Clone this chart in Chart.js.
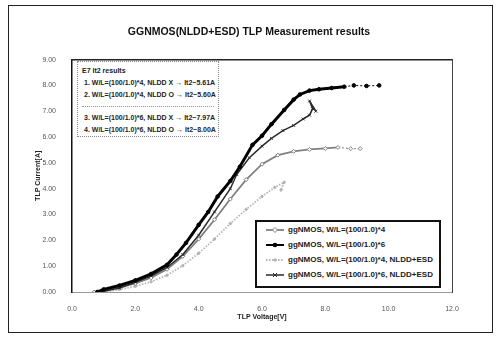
<!DOCTYPE html>
<html>
<head>
<meta charset="utf-8">
<script src="https://cdn.jsdelivr.net/npm/chart.js@4/dist/chart.umd.min.js"></script>
<style>
  body { margin: 0; background: #fff; }
  #wrap { position: relative; width: 498px; height: 339px; font-family: "Liberation Sans", Arial, sans-serif; }
  #frame { position: absolute; left: 8px; top: 5px; width: 483px; height: 326px; border: 1.5px solid #222; pointer-events: none; }
  #note { position: absolute; left: 77px; top: 61px; width: 140px; height: 74px; border: 1px dotted #888; font-size: 7px; font-weight: bold; color: #222; background: #fff; }
  #note div { position: absolute; white-space: nowrap; }
  #note .sep { left: 4px; right: 4px; border-top: 1px dotted #999; height: 0; }
  #legend { position: absolute; left: 255px; top: 220px; width: 182px; height: 64px; border: 2px solid #111; background: #fff; font-size: 8px; font-weight: bold; color: #222; }
  #legend .row { position: absolute; left: 8px; white-space: nowrap; display: flex; align-items: center; }
  #legend svg { margin-right: 3px; }
</style>
</head>
<body>
<div id="wrap">
  <canvas id="myChart" width="498" height="339"></canvas>
  <div id="note"></div>
  <div id="legend"></div>
  <div id="frame"></div>
</div>
<script>
var chartTitle = "GGNMOS(NLDD+ESD) TLP Measurement results";
var xTitle = "TLP Voltage[V]";
var yTitle = "TLP Current[A]";

var labels = [
    "ggNMOS, W/L=(100/1.0)*4",
    "ggNMOS, W/L=(100/1.0)*6",
    "ggNMOS, W/L=(100/1.0)*4, NLDD+ESD",
    "ggNMOS, W/L=(100/1.0)*6, NLDD+ESD"
];

// series 1 : W/L*4
var v1 = [0.7, 1.0, 1.5, 2.0, 2.5, 3.0, 3.5, 4.0, 4.5, 5.0, 5.5, 6.0, 6.5, 7.0, 7.5, 8.0, 8.4, 8.8, 9.1];
var i1 = [0.0, 0.05, 0.18, 0.33, 0.55, 0.88, 1.38, 2.05, 2.8, 3.6, 4.35, 4.95, 5.3, 5.45, 5.52, 5.56, 5.6, 5.55, 5.55];
// series 2 : W/L*6
var v2 = [0.8, 1.0, 1.5, 2.0, 2.5, 3.0, 3.3, 3.6, 4.0, 4.3, 4.6, 5.0, 5.3, 5.7, 6.0, 6.3, 6.7, 7.0, 7.2, 7.5, 7.8, 8.2, 8.6, 8.9, 9.3, 9.7];
var i2 = [0.0, 0.1, 0.25, 0.45, 0.7, 1.05, 1.45, 1.9, 2.6, 3.1, 3.7, 4.3, 4.85, 5.7, 6.05, 6.5, 7.05, 7.45, 7.65, 7.8, 7.85, 7.9, 7.95, 8.0, 7.98, 8.0];
// series 3 : W/L*4, NLDD+ESD
var v3 = [1.0, 1.5, 2.0, 2.5, 3.0, 3.5, 4.0, 4.5, 5.0, 5.5, 6.0, 6.4, 6.7, 6.6];
var i3 = [0.0, 0.1, 0.22, 0.4, 0.65, 1.02, 1.5, 2.05, 2.65, 3.2, 3.7, 4.05, 4.25, 3.95];
// series 4 : W/L*6, NLDD+ESD
var v4 = [0.9, 1.5, 2.0, 2.5, 3.0, 3.5, 4.0, 4.5, 5.0, 5.2, 5.6, 6.0, 6.3, 6.66, 7.0, 7.3, 7.5, 7.6, 7.5, 7.7];
var i4 = [0.0, 0.15, 0.38, 0.62, 0.95, 1.45, 2.2, 3.1, 4.0, 4.55, 5.2, 5.65, 5.95, 6.25, 6.45, 6.7, 6.85, 7.1, 7.4, 7.0];

// where the dotted tail starts (index of first dotted point)
var tail1 = 17;
var tail2 = 23;

var xTicks = [0, 2, 4, 6, 8, 10, 12];
var yTicks = [0, 1, 2, 3, 4, 5, 6, 7, 8, 9];

var noteLines = [
    "E7 It2 results",
    "1. W/L=(100/1.0)*4, NLDD X \u2192 It2~5.61A",
    "2. W/L=(100/1.0)*4, NLDD O \u2192 It2~5.60A",
    "3. W/L=(100/1.0)*6, NLDD X \u2192 It2~7.97A",
    "4. W/L=(100/1.0)*6, NLDD O \u2192 It2~8.00A"
];

var colors = ["#808080", "#000000", "#b4b4b4", "#2a2a2a"];
var widths = [1.8, 3, 1.8, 1.5];
var marks = ["rectRot", "circle", "circle", "crossRot"];
var markSize = [2, 1.8, 1.2, 2];
var markFill = ["#ffffff", "#000000", "#b4b4b4", "#2a2a2a"];
var dashes = [[], [], [1.5, 1.5], []];

function pts(xs, ys) {
    var d = [];
    for (var i = 0; i < xs.length; i++) d.push({x: xs[i], y: ys[i]});
    return d;
}

function tailDash(n) {
    return function (ctx) { return ctx.p1DataIndex >= n ? [2, 2] : undefined; };
}
function tailWidth(n, w) {
    return function (ctx) { return ctx.p1DataIndex >= n ? 1 : w; };
}

var series = [pts(v1, i1), pts(v2, i2), pts(v3, i3), pts(v4, i4)];
var tails = [tail1, tail2, 999, 999];

var datasets = [];
for (var k = 0; k < 4; k++) {
    datasets.push({
        label: labels[k],
        data: series[k],
        showLine: true,
        borderColor: colors[k],
        backgroundColor: markFill[k],
        borderWidth: widths[k],
        borderDash: dashes[k],
        pointStyle: marks[k],
        pointRadius: markSize[k],
        pointBorderWidth: 1,
        pointBorderColor: colors[k],
        tension: 0,
        segment: { borderDash: tailDash(tails[k]), borderWidth: tailWidth(tails[k], widths[k]) }
    });
}
// draw black ones on top
datasets[1].order = 0;
datasets[3].order = 1;
datasets[0].order = 2;
datasets[2].order = 3;

var fam = "'Liberation Sans', Arial, sans-serif";
var tickFont = { family: fam, size: 7 };

var ctx = document.getElementById('myChart').getContext('2d');
var chart = new Chart(ctx, {
    type: 'scatter',
    data: { datasets: datasets },
    options: {
        responsive: false,
        animation: false,
        devicePixelRatio: 1,
        layout: { padding: { left: 10, right: 10, top: 16, bottom: 6 } },
        plugins: {
            legend: { display: false },
            tooltip: { enabled: false },
            title: {
                display: true,
                text: chartTitle,
                color: '#111',
                font: { family: fam, size: 10.5, weight: 'bold' },
                padding: { top: 10, bottom: 21 }
            }
        },
        scales: {
            x: {
                type: 'linear', min: 0, max: 12,
                afterBuildTicks: function (s) { s.ticks = xTicks.map(function (v) { return {value: v}; }); },
                ticks: { color: '#555', font: tickFont, padding: 5, maxRotation: 0,
                    callback: function (v) { return v.toFixed(1); } },
                grid: { display: false },
                border: { color: '#999', dash: [2, 2], width: 1 },
                title: { display: true, text: xTitle, color: '#222',
                    font: { family: fam, size: 7, weight: 'bold' }, padding: { top: 0, bottom: 12 } },
                afterFit: function (s) { s.height = 41; }
            },
            y: {
                type: 'linear', min: 0, max: 9,
                afterBuildTicks: function (s) { s.ticks = yTicks.map(function (v) { return {value: v}; }); },
                ticks: { color: '#555', font: tickFont, padding: 8,
                    callback: function (v) { return v.toFixed(2); } },
                grid: { display: false },
                border: { color: '#111', width: 1.5 },
                title: { display: true, text: yTitle, color: '#222',
                    font: { family: fam, size: 7, weight: 'bold' }, padding: { top: 24, bottom: 0 } },
                afterFit: function (s) { s.width = 62; }
            },
            x2: {
                type: 'linear', position: 'top', min: 0, max: 12,
                ticks: { display: false }, grid: { display: false },
                border: { color: '#222', width: 1.5 },
                afterFit: function (s) { s.height = 0; }
            },
            y2: {
                type: 'linear', position: 'right', min: 0, max: 9,
                ticks: { display: false }, grid: { display: false },
                border: { color: '#444', width: 1 },
                afterFit: function (s) { s.width = 36; }
            }
        }
    }
});

// note box
var note = document.getElementById('note');
var noteTop = [5, 17, 29, 52, 64];
for (var n = 0; n < noteLines.length; n++) {
    var d = document.createElement('div');
    d.textContent = noteLines[n];
    d.style.top = noteTop[n] + 'px';
    d.style.left = (n == 0 ? 4 : 6) + 'px';
    note.appendChild(d);
}
var sep = document.createElement('div');
sep.className = 'sep';
sep.style.top = '44px';
note.appendChild(sep);

// legend
var leg = document.getElementById('legend');
function sample(k) {
    var s = '<svg width="20" height="8">';
    var dash = dashes[k].length ? ' stroke-dasharray="1.5,1.5"' : '';
    s += '<line x1="1" y1="4" x2="19" y2="4" stroke="' + colors[k] + '" stroke-width="' + Math.min(widths[k], 2) + '"' + dash + '/>';
    if (marks[k] == 'rectRot') s += '<path d="M10 1.5 L12.5 4 L10 6.5 L7.5 4 Z" fill="#fff" stroke="' + colors[k] + '"/>';
    if (marks[k] == 'circle') s += '<circle cx="10" cy="4" r="' + (markSize[k] + 0.5) + '" fill="' + markFill[k] + '"/>';
    if (marks[k] == 'crossRot') s += '<path d="M8 2 L12 6 M12 2 L8 6" stroke="' + colors[k] + '"/>';
    return s + '</svg>';
}
for (var r = 0; r < labels.length; r++) {
    var row = document.createElement('div');
    row.className = 'row';
    row.style.top = (3 + r * 15) + 'px';
    row.innerHTML = sample(r) + '<span></span>';
    row.lastChild.textContent = labels[r];
    leg.appendChild(row);
}
</script>
</body>
</html>
